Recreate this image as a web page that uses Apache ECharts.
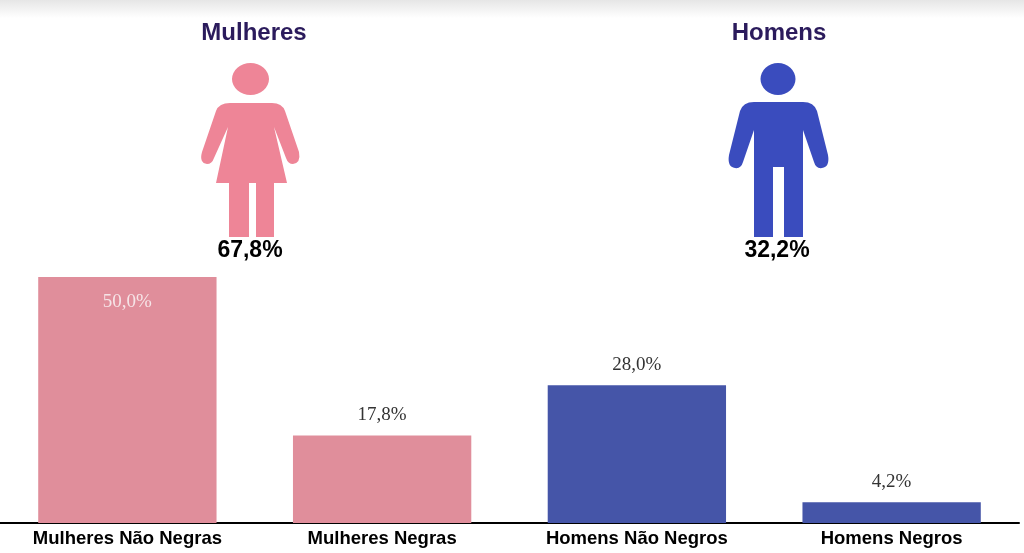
<!DOCTYPE html>
<html>
<head>
<meta charset="utf-8">
<script src="https://cdn.jsdelivr.net/npm/echarts@6/dist/echarts.min.js"></script>
<style>
  html, body { margin: 0; padding: 0; background: #fff; }
  #chart { width: 1024px; height: 553px; }
</style>
</head>
<body>
<div id="chart"></div>
<script>
// dados
var categories = ['Mulheres Não Negras', 'Mulheres Negras', 'Homens Não Negros', 'Homens Negros'];
var shares = [50.0, 17.8, 28.0, 4.2];
var groupNames = ['Mulheres', 'Homens'];
var groupTotals = [67.8, 32.2];

var PINK_BAR = '#E08E9B', BLUE_BAR = '#4555A8';
var PINK_ICON = '#EE8597', BLUE_ICON = '#3A4CBE';

function pct(v) {
    return v.toFixed(1).replace('.', ',') + '%';
}

// icones (mulher / homem)
var womanPath =
    'M 232 79 A 18.5 16 0 1 0 269 79 A 18.5 16 0 1 0 232 79 Z ' +
    'M 230 103 L 272 103 Q 282 103 285 111 L 299 152 Q 301 163 293 164 Q 288 164 286 158 ' +
    'L 274 127 L 287 183 L 274 183 L 274 237 L 256 237 L 256 183 L 249 183 L 249 237 ' +
    'L 229 237 L 229 183 L 216 183 L 228 127 L 214 158 Q 212 164 207 164 Q 199 163 202 152 ' +
    'L 216 111 Q 219 103 230 103 Z';
var manPath =
    'M 760.5 79 A 17.5 16 0 1 0 795.5 79 A 17.5 16 0 1 0 760.5 79 Z ' +
    'M 754 102 L 803 102 Q 814 102 817 111 L 828 155 Q 830 167 822 168 Q 816 169 814 162 ' +
    'L 803 130 L 803 237 L 784 237 L 784 167 L 773 167 L 773 237 L 754 237 L 754 130 ' +
    'L 743 162 Q 741 169 735 168 Q 727 167 729 155 L 740 111 Q 743 102 754 102 Z';

echarts.graphic.registerShape('womanIcon', echarts.graphic.extendPath(womanPath, {}));
echarts.graphic.registerShape('manIcon', echarts.graphic.extendPath(manPath, {}));

var barData = shares.map(function (v, i) {
    var item = {
        value: v,
        itemStyle: { color: i < 2 ? PINK_BAR : BLUE_BAR }
    };
    if (i === 0) {
        item.label = { position: 'insideTop', distance: 16, color: '#F6E4E7' };
    }
    return item;
});

var titleFont = 'bold 24px "Liberation Sans", Arial, sans-serif';
var totalFont = 'bold 23px "Liberation Sans", Arial, sans-serif';

var option = {
    backgroundColor: '#fff',
    animation: false,
    grid: { left: 0, right: 5, top: 277, bottom: 30 },
    xAxis: {
        type: 'category',
        data: categories,
        axisLine: { show: true, lineStyle: { color: '#000', width: 2 } },
        axisTick: { show: false },
        axisLabel: {
            color: '#000',
            fontWeight: 'bold',
            fontSize: 18.5,
            fontFamily: '"Liberation Sans", Arial, sans-serif',
            margin: 6,
            interval: 0
        }
    },
    yAxis: {
        type: 'value',
        min: 0,
        max: 50,
        show: false,
        splitLine: { show: false }
    },
    series: [{
        type: 'bar',
        barWidth: '70%',
        data: barData,
        label: {
            show: true,
            position: 'top',
            distance: 11,
            color: '#333',
            fontSize: 19,
            fontFamily: '"Liberation Serif", "DejaVu Serif", serif',
            formatter: function (p) { return pct(p.value); }
        }
    }],
    graphic: [
        {
            type: 'rect',
            shape: { x: 0, y: 0, width: 1024, height: 18 },
            style: {
                fill: new echarts.graphic.LinearGradient(0, 0, 0, 1, [
                    { offset: 0, color: '#e6e6e6' },
                    { offset: 1, color: '#ffffff' }
                ])
            },
            silent: true
        },
        {
            type: 'text',
            style: { text: groupNames[0], x: 254, y: 33, textAlign: 'center', textVerticalAlign: 'middle', font: titleFont, fill: '#2B1B5C' }
        },
        {
            type: 'text',
            style: { text: groupNames[1], x: 779, y: 33, textAlign: 'center', textVerticalAlign: 'middle', font: titleFont, fill: '#2B1B5C' }
        },
        {
            type: 'womanIcon',
            style: { fill: PINK_ICON }
        },
        {
            type: 'manIcon',
            style: { fill: BLUE_ICON }
        },
        {
            type: 'text',
            style: { text: pct(groupTotals[0]), x: 250, y: 251, textAlign: 'center', textVerticalAlign: 'middle', font: totalFont, fill: '#000' }
        },
        {
            type: 'text',
            style: { text: pct(groupTotals[1]), x: 777, y: 251, textAlign: 'center', textVerticalAlign: 'middle', font: totalFont, fill: '#000' }
        }
    ]
};

var myChart = echarts.init(document.getElementById('chart'));
myChart.setOption(option);
</script>
</body>
</html>
